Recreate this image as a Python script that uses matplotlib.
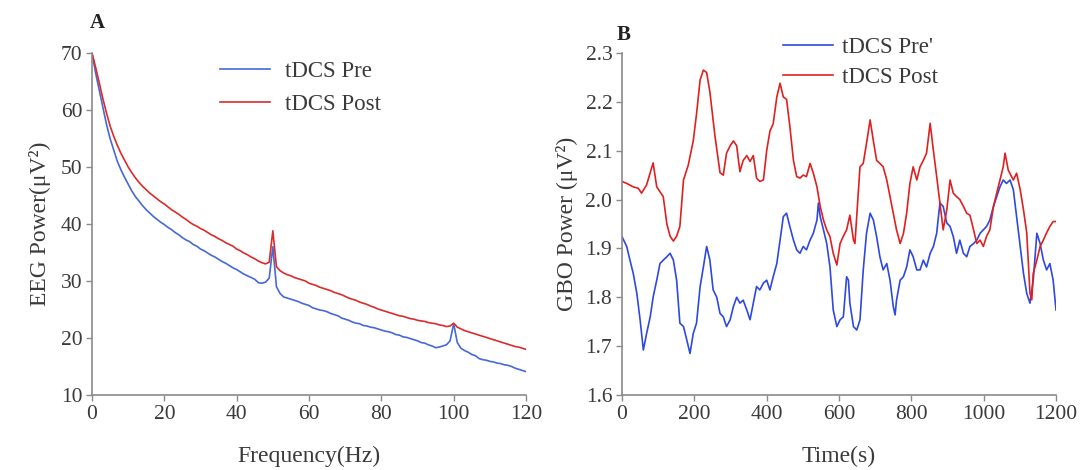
import matplotlib
matplotlib.use("Agg")
import matplotlib.pyplot as plt

# ---------------- data: panel A (EEG power spectrum) ----------------
freq = list(range(0, 121))
eeg_pre = [70, 66.5, 63.5, 60.5, 57.5, 55, 53, 51, 49.5, 48.2,
           47, 45.8, 44.8, 44, 43.2, 42.5, 41.9, 41.3, 40.8, 40.3,
           39.9, 39.4, 39, 38.5, 38.1, 37.6, 37.2, 36.9, 36.4, 36.1,
           35.6, 35.3, 34.9, 34.5, 34.2, 33.8, 33.4, 33.1, 32.7, 32.3,
           32, 31.6, 31.2, 30.9, 30.6, 30.3, 29.7, 29.6, 29.8, 30.5,
           36, 29, 27.8, 27.2, 27, 26.8, 26.6, 26.4, 26.1, 25.9,
           25.7, 25.3, 25.1, 24.9, 24.8, 24.6, 24.3, 24.1, 23.9, 23.5,
           23.3, 23.1, 22.8, 22.6, 22.5, 22.2, 22.1, 21.9, 21.8, 21.6,
           21.4, 21.2, 21.1, 20.9, 20.6, 20.5, 20.2, 20.1, 19.9, 19.7,
           19.5, 19.2, 19.1, 18.8, 18.6, 18.3, 18.4, 18.6, 18.8, 19.5,
           22.5, 19.2, 18.2, 17.8, 17.5, 17.1, 16.9, 16.4, 16.2, 16.1,
           15.9, 15.8, 15.6, 15.5, 15.3, 15.2, 15.0, 14.7, 14.5, 14.3,
           14.1]
eeg_post = [70, 67.5, 64.8, 62, 59.5, 57.2, 55.4, 53.8, 52.4, 51.2,
            50, 49, 48.1, 47.3, 46.6, 46, 45.4, 44.9, 44.4, 43.9,
            43.5, 43, 42.5, 42.1, 41.7, 41.2, 40.8, 40.3, 39.9, 39.6,
            39.2, 38.9, 38.5, 38.1, 37.8, 37.4, 37.1, 36.7, 36.4, 36.1,
            35.6, 35.3, 34.9, 34.6, 34.2, 33.9, 33.5, 33.2, 33.0, 33.3,
            38.8, 32.5, 31.8, 31.4, 31.1, 30.9, 30.6, 30.4, 30.2, 30.0,
            29.6, 29.4, 29.2, 28.9, 28.7, 28.5, 28.3, 28.0, 27.8, 27.6,
            27.3, 27.0, 26.8, 26.6, 26.3, 26.1, 25.9, 25.6, 25.4, 25.1,
            24.9, 24.7, 24.5, 24.3, 24.1, 23.9, 23.8, 23.6, 23.4, 23.3,
            23.1, 23.0, 22.9, 22.7, 22.6, 22.5, 22.3, 22.2, 22.0, 22.1,
            22.6, 21.9, 21.6, 21.3, 21.1, 20.9, 20.7, 20.5, 20.3, 20.1,
            19.9, 19.7, 19.5, 19.3, 19.1, 18.9, 18.7, 18.5, 18.4, 18.2,
            18.0]

# ---------------- data: panel B (GBO power over time) ----------------
t_post = [0, 13, 31, 45, 54, 68, 86, 96, 105, 114, 124, 133, 142, 151, 160,
          170, 183, 197, 206, 216, 225, 234, 243, 257, 271, 280, 289, 299,
          308, 317, 326, 335, 345, 354, 363, 372, 381, 391, 400, 409, 418,
          428, 437, 446, 455, 464, 474, 483, 492, 501, 510, 520, 529, 539,
          548, 557, 566, 575, 584, 594, 603, 612, 621, 630, 640, 644, 658,
          667, 676, 686, 695, 704, 713, 722, 732, 741, 750, 759, 769, 778,
          787, 796, 805, 815, 824, 833, 842, 852, 861, 870, 879, 888, 898,
          907, 916, 925, 934, 944, 953, 962, 972, 981, 990, 999, 1008, 1017,
          1027, 1036, 1045, 1054, 1059, 1068, 1082, 1091, 1101, 1110, 1119,
          1128, 1133, 1137, 1147, 1156, 1165, 1174, 1183, 1192, 1200]
gbo_post = [2.037, 2.033, 2.026, 2.023, 2.013, 2.03, 2.075, 2.026, 2.016,
            2.006, 1.95, 1.925, 1.915, 1.925, 1.945, 2.04, 2.07, 2.12, 2.175,
            2.245, 2.265, 2.26, 2.22, 2.13, 2.055, 2.05, 2.095, 2.11, 2.12,
            2.11, 2.057, 2.08, 2.09, 2.078, 2.09, 2.044, 2.037, 2.04, 2.1,
            2.14, 2.155, 2.21, 2.238, 2.21, 2.205, 2.15, 2.08, 2.047, 2.044,
            2.05, 2.047, 2.074, 2.054, 2.026, 1.986, 1.958, 1.938, 1.924,
            1.89, 1.866, 1.91, 1.925, 1.938, 1.968, 1.917, 1.91, 2.067,
            2.074, 2.115, 2.163, 2.12, 2.08, 2.074, 2.067, 2.04, 2.006,
            1.972, 1.938, 1.91, 1.93, 1.972, 2.033, 2.067, 2.04, 2.067,
            2.08, 2.095, 2.156, 2.1, 2.047, 1.993, 1.938, 1.979, 2.04,
            2.013, 2.006, 2.0, 1.986, 1.972, 1.968, 1.938, 1.91, 1.917,
            1.904, 1.925, 1.938, 1.986, 2.013, 2.04, 2.067, 2.095, 2.06,
            2.04, 2.054, 2.02, 1.979, 1.932, 1.808, 1.795, 1.849, 1.876,
            1.904, 1.917, 1.932, 1.945, 1.955, 1.955]

t_pre = [0, 13, 22, 31, 41, 50, 59, 68, 78, 86, 96, 105, 114, 124, 133, 142,
         151, 160, 170, 179, 188, 197, 206, 216, 225, 234, 243, 252, 262,
         271, 280, 289, 299, 308, 317, 326, 335, 345, 354, 363, 372, 381,
         391, 400, 409, 418, 428, 437, 446, 455, 464, 474, 483, 492, 501,
         510, 520, 529, 539, 543, 548, 557, 566, 575, 584, 594, 603, 612,
         621, 626, 630, 640, 649, 658, 667, 676, 686, 695, 704, 713, 722,
         732, 741, 750, 755, 759, 769, 778, 787, 796, 805, 815, 824, 833,
         842, 852, 861, 870, 879, 888, 898, 907, 916, 925, 934, 944, 953,
         962, 972, 981, 990, 999, 1008, 1017, 1027, 1036, 1045, 1054, 1063,
         1073, 1082, 1091, 1101, 1110, 1119, 1128, 1137, 1147, 1156, 1165,
         1174, 1183, 1192, 1200]
gbo_pre = [1.924, 1.904, 1.876, 1.849, 1.808, 1.754, 1.692, 1.726, 1.76,
           1.8, 1.835, 1.869, 1.876, 1.883, 1.89, 1.876, 1.835, 1.747, 1.74,
           1.713, 1.685, 1.726, 1.747, 1.822, 1.862, 1.904, 1.876, 1.815,
           1.8, 1.767, 1.76, 1.74, 1.754, 1.781, 1.8, 1.788, 1.794, 1.774,
           1.754, 1.788, 1.822, 1.815, 1.829, 1.835, 1.815, 1.842, 1.869,
           1.917, 1.965, 1.972, 1.945, 1.917, 1.897, 1.89, 1.904, 1.897,
           1.917, 1.931, 1.958, 1.993, 1.965, 1.938, 1.91, 1.862, 1.774,
           1.74, 1.754, 1.76, 1.842, 1.835, 1.788, 1.74, 1.733, 1.754,
           1.856, 1.931, 1.972, 1.958, 1.924, 1.883, 1.856, 1.869, 1.835,
           1.781, 1.764, 1.794, 1.835, 1.842, 1.862, 1.897, 1.883, 1.856,
           1.856, 1.876, 1.862, 1.89, 1.904, 1.931, 1.993, 1.986, 1.952,
           1.945, 1.924, 1.89, 1.917, 1.89, 1.883, 1.904, 1.91, 1.917,
           1.931, 1.938, 1.945, 1.958, 1.986, 2.006, 2.026, 2.04, 2.033,
           2.04, 2.02, 1.965, 1.904, 1.849, 1.808, 1.788, 1.835, 1.931,
           1.91, 1.876, 1.856, 1.869, 1.835, 1.774]

###########################################
plt.rcParams['font.family'] = ['Liberation Serif', 'DejaVu Serif']

TXT = '#3a3a3a'
AX = '#8a8a8a'
TICK_FS = 15.5
LABEL_FS = 17
LEG_FS = 16.5

fig = plt.figure(figsize=(10.81, 4.70), dpi=100)
axA = fig.add_axes([0.0851, 0.1596, 0.4015, 0.7277])
axB = fig.add_axes([0.5754, 0.1596, 0.4015, 0.7277])


def style(ax):
    for s in ('top', 'right'):
        ax.spines[s].set_visible(False)
    for s in ('left', 'bottom'):
        ax.spines[s].set_color(AX)
        ax.spines[s].set_linewidth(1.2)
    ax.tick_params(colors=AX, labelcolor=TXT, length=4, width=1, labelsize=TICK_FS, pad=3)


# Panel A
axA.plot(freq, eeg_pre, color='#4668d8', lw=1.2, label='tDCS Pre')
axA.plot(freq, eeg_post, color='#dd2a2a', lw=1.2, label='tDCS Post')
axA.set_xlim(0, 120)
axA.set_ylim(10, 70)
axA.set_xticks(range(0, 121, 20))
axA.set_yticks(range(10, 71, 10))
axA.set_xlabel('Frequency(Hz)', color=TXT, fontsize=LABEL_FS, labelpad=16)
axA.set_ylabel('EEG Power(μV²)', color=TXT, fontsize=LABEL_FS, labelpad=7)
style(axA)
axA.legend(loc='upper left', bbox_to_anchor=(0.184, 0.914), bbox_transform=fig.transFigure,
           frameon=False, fontsize=LEG_FS, handlelength=2.2, labelspacing=0.5,
           handletextpad=0.65, labelcolor=TXT)
fig.text(0.083, 0.952, 'A', fontsize=15, fontweight='bold', color='#222222', ha='left', va='center')

# Panel B
axB.plot(t_pre, gbo_pre, color='#2f48e0', lw=1.2, label="tDCS Pre'")
axB.plot(t_post, gbo_post, color='#e02020', lw=1.2, label='tDCS Post')
axB.set_xlim(0, 1200)
axB.set_ylim(1.6, 2.3)
axB.set_xticks(range(0, 1201, 200))
axB.set_yticks([1.6, 1.7, 1.8, 1.9, 2.0, 2.1, 2.2, 2.3])
axB.set_xlabel('Time(s)', color=TXT, fontsize=LABEL_FS, labelpad=16)
axB.set_ylabel('GBO Power (μV²)', color=TXT, fontsize=LABEL_FS, labelpad=5)
style(axB)
axB.legend(loc='upper left', bbox_to_anchor=(0.705, 0.966), bbox_transform=fig.transFigure,
           frameon=False, fontsize=LEG_FS, handlelength=2.2, labelspacing=0.42,
           handletextpad=0.4, labelcolor=TXT)
fig.text(0.570, 0.925, 'B', fontsize=15, fontweight='bold', color='#222222', ha='left', va='center')

fig.savefig('out.png', dpi=100)
